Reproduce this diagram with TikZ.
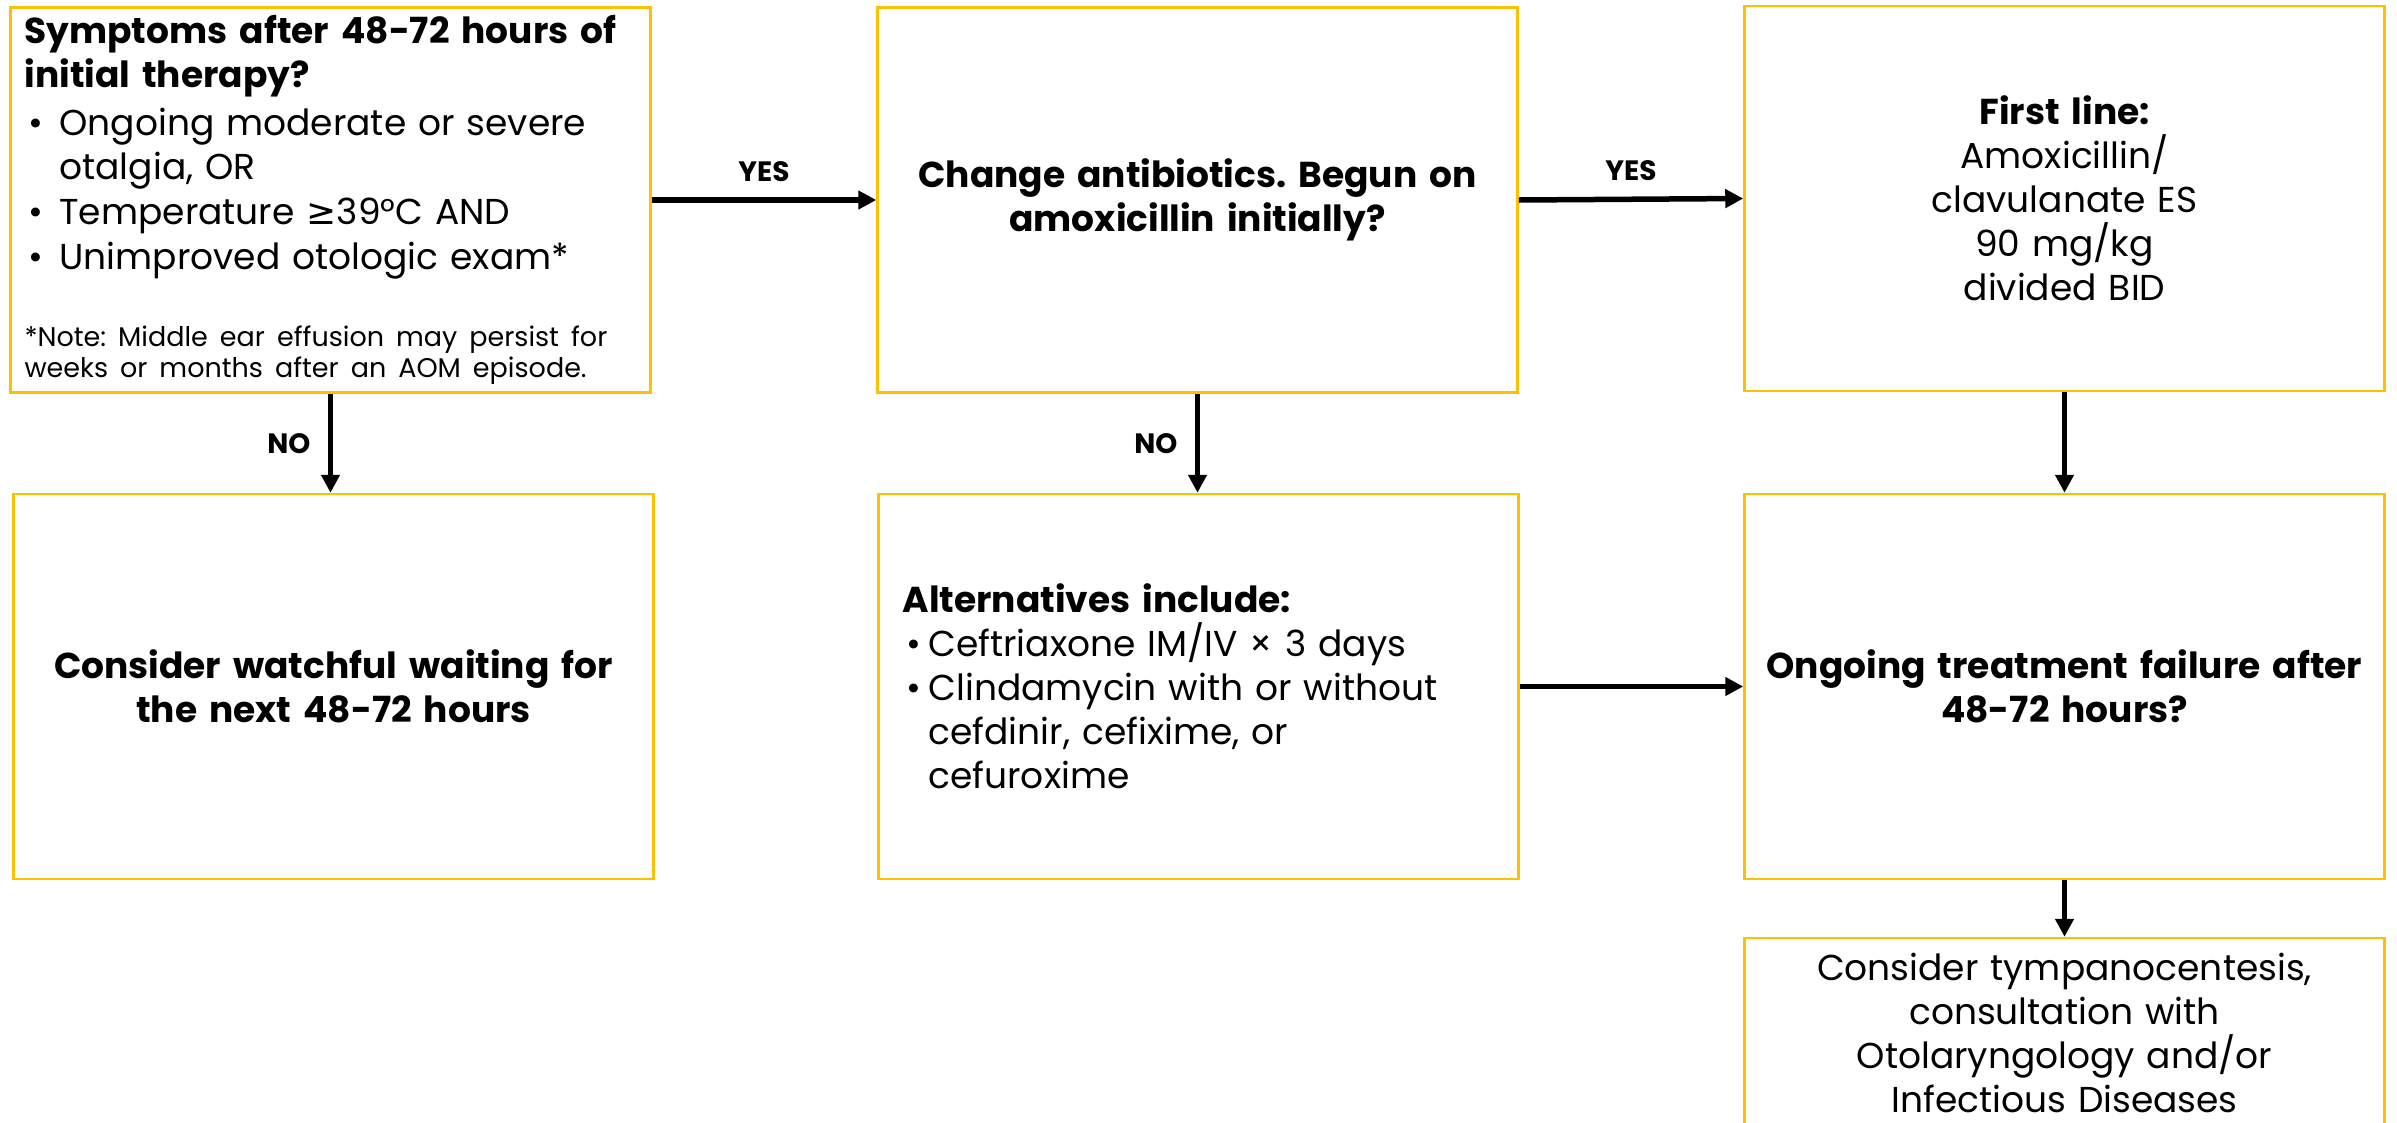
\documentclass[tikz,border=0pt]{standalone}
\usepackage{fontspec}
\setmainfont{Poppins}
\newfontfamily\symfont{DejaVu Sans}
\usetikzlibrary{arrows.meta}
\definecolor{boxgold}{RGB}{255,192,0}
\tikzset{
  box/.style={draw=boxgold, line width=2.5pt, minimum width=640pt, minimum height=385pt,
    inner sep=0pt, align=center, text width=630pt, font=\fontsize{36}{44}\selectfont\frenchspacing},
  arr/.style={line width=5.5pt, -{Triangle[length=18pt,width=18pt]}},
  lbl/.style={font=\fontsize{28}{32}\selectfont\bfseries}
}
\newcommand{\bul}[1]{\makebox[#1][l]{\hspace{4pt}•}}
\begin{document}
\begin{tikzpicture}[x=1pt,y=-1pt]
\clip (0,0) rectangle (2397,1122);

% Rangee du haut
	\node[box, align=left, text width=612pt] (sympt) at (330.5,200)
		{\textbf{Symptoms after 48-72 hours of}\\ \textbf{initial therapy?}\\[4pt]
		\bul{35pt}Ongoing moderate or severe\\ \hspace*{35pt}otalgia, OR\\[1pt]
		\bul{35pt}Temperature {\symfont ≥}39°C AND\\[1pt]
		\bul{35pt}Unimproved otologic exam*\par\vspace{46pt}
		\noindent\fontsize{27}{31}\selectfont *Note: Middle ear effusion may persist for\\ weeks or months after an AOM episode.\par\vspace{-32pt}};
	\node[box] (change) at (1197.5,200)
		{\textbf{Change antibiotics. Begun on}\\ \textbf{amoxicillin initially?}};
	\node[box] (first) at (2064.5,198.5)
		{\textbf{First line:}\\ Amoxicillin/\\ clavulanate ES\\ 90 mg/kg\\ divided BID};

% Rangee du bas
	\node[box] (wait) at (333.5,686.5)
		{\textbf{Consider watchful waiting for}\\ \textbf{the next 48-72 hours}};
	\node[box, align=left, text width=592pt] (alt) at (1198.5,686.5)
		{\textbf{Alternatives include:}\\
		\bul{26pt}Ceftriaxone IM/IV × 3 days\\
		\bul{26pt}Clindamycin with or without\\ \hspace*{26pt}cefdinir, cefixime, or\\ \hspace*{26pt}cefuroxime};
	\node[box] (fail) at (2064.5,686.5)
		{\textbf{Ongoing treatment failure after}\\ \textbf{48-72 hours?}};
	\node[box, minimum height=190pt] (consult) at (2064.5,1033)
		{Consider tympanocentesis,\\ consultation with\\ Otolaryngology and/or\\ Infectious Diseases};

% Fleches
	\draw[arr] (sympt.east) -- node[lbl, above=12pt] {YES} (change.west);
	\draw[arr] (change.east) -- node[lbl, above=12pt] {YES} (first.west);
	\draw[arr] (sympt.south) -- node[lbl, left=14pt] {NO} (sympt.south |- wait.north);
	\draw[arr] (change.south) -- node[lbl, left=14pt] {NO} (change.south |- alt.north);
	\draw[arr] (first.south) -- (fail.north);
	\draw[arr] (alt.east) -- (fail.west);
	\draw[arr] (fail.south) -- (consult.north);
\end{tikzpicture}
\end{document}
